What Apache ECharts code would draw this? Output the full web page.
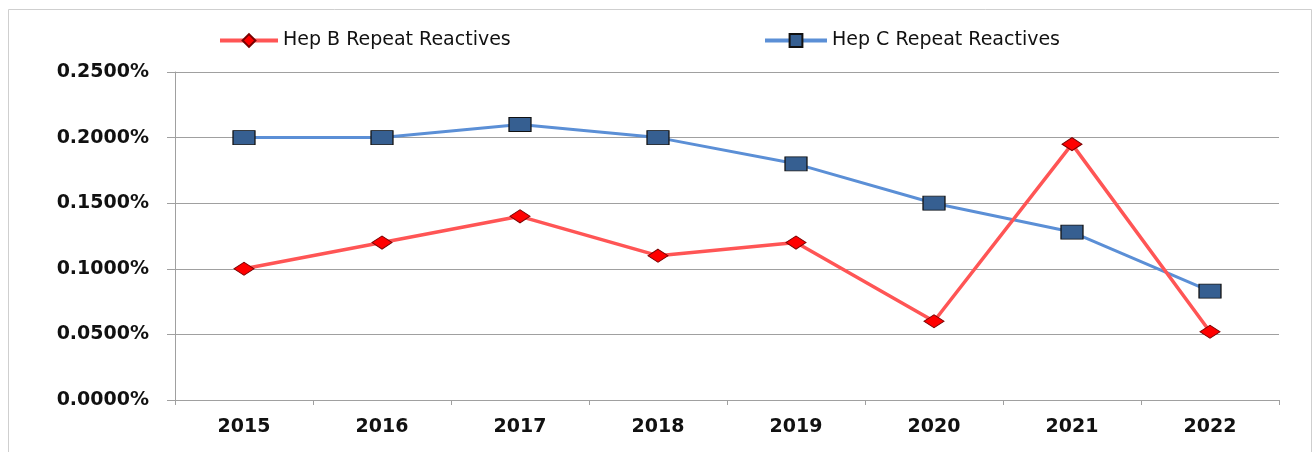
<!DOCTYPE html>
<html lang="en">
<head>
  <meta charset="UTF-8">
  <title>Hep B / Hep C Repeat Reactives</title>
  <script src="https://cdn.jsdelivr.net/npm/echarts@6/dist/echarts.min.js"></script>
  <style>
    html, body { margin: 0; padding: 0; background: #fff; }
  </style>
</head>
<body>
  <div id="main" style="width:1315px;height:452px;"></div>
  <script type="text/javascript">
    // data (values are percent)
    var years = ['2015', '2016', '2017', '2018', '2019', '2020', '2021', '2022'];
    var hepB = [0.100, 0.120, 0.140, 0.110, 0.120, 0.060, 0.195, 0.052];
    var hepC = [0.200, 0.200, 0.210, 0.200, 0.180, 0.150, 0.128, 0.083];
    var nameB = 'Hep B Repeat Reactives';
    var nameC = 'Hep C Repeat Reactives';

    var myChart = echarts.init(document.getElementById('main'));

    var axisFont = { fontFamily: 'DejaVu Sans', fontWeight: 'bold', fontSize: 19, color: '#111' };
    var legendFont = { fontFamily: 'DejaVu Sans', fontSize: 19, color: '#111' };

    var option = {
      animation: false,
      backgroundColor: '#fff',
      graphic: [{
        type: 'rect',
        shape: { x: 8.5, y: 9.5, width: 1303, height: 470 },
        style: { fill: 'none', stroke: '#cfcfcf', lineWidth: 1 },
        silent: true
      }],
      legend: [{
        data: [nameB],
        left: 213,
        top: 26,
        itemWidth: 58,
        itemHeight: 16,
        itemGap: 6,
        lineStyle: { width: 4 },
        textStyle: legendFont
      }, {
        data: [nameC],
        left: 758,
        top: 26,
        itemWidth: 62,
        itemHeight: 16,
        lineStyle: { width: 4 },
        textStyle: legendFont
      }],
      grid: {
        left: 175,
        right: 36,
        top: 72,
        bottom: 52,
        containLabel: false
      },
      xAxis: {
        type: 'category',
        data: years,
        boundaryGap: true,
        axisLine: { lineStyle: { color: '#a0a0a0', width: 1 } },
        axisTick: { show: true, length: 5, inside: false, lineStyle: { color: '#a0a0a0' } },
        axisLabel: Object.assign({ margin: 18 }, axisFont),
        splitLine: { show: false }
      },
      yAxis: {
        type: 'value',
        min: 0,
        max: 0.25,
        interval: 0.05,
        axisLine: { show: true, lineStyle: { color: '#a0a0a0', width: 1 } },
        axisTick: { show: true, length: 8, lineStyle: { color: '#a0a0a0' } },
        axisLabel: Object.assign({
          margin: 26,
          formatter: function (v) { return v.toFixed(4) + '%'; }
        }, axisFont),
        splitLine: { show: true, lineStyle: { color: '#a0a0a0', width: 1 } }
      },
      series: [{
        name: nameB,
        type: 'line',
        data: hepB,
        symbol: 'diamond',
        symbolSize: [20, 13],
        lineStyle: { color: '#ff5555', width: 3.5 },
        itemStyle: { color: '#ff0000', borderColor: '#7a0000', borderWidth: 1 },
        z: 3
      }, {
        name: nameC,
        type: 'line',
        data: hepC,
        symbol: 'rect',
        symbolSize: [22, 14],
        lineStyle: { color: '#5b8fd6', width: 3 },
        itemStyle: { color: '#365f91', borderColor: '#111', borderWidth: 1 },
        z: 2
      }]
    };

    myChart.setOption(option);
  </script>
</body>
</html>
